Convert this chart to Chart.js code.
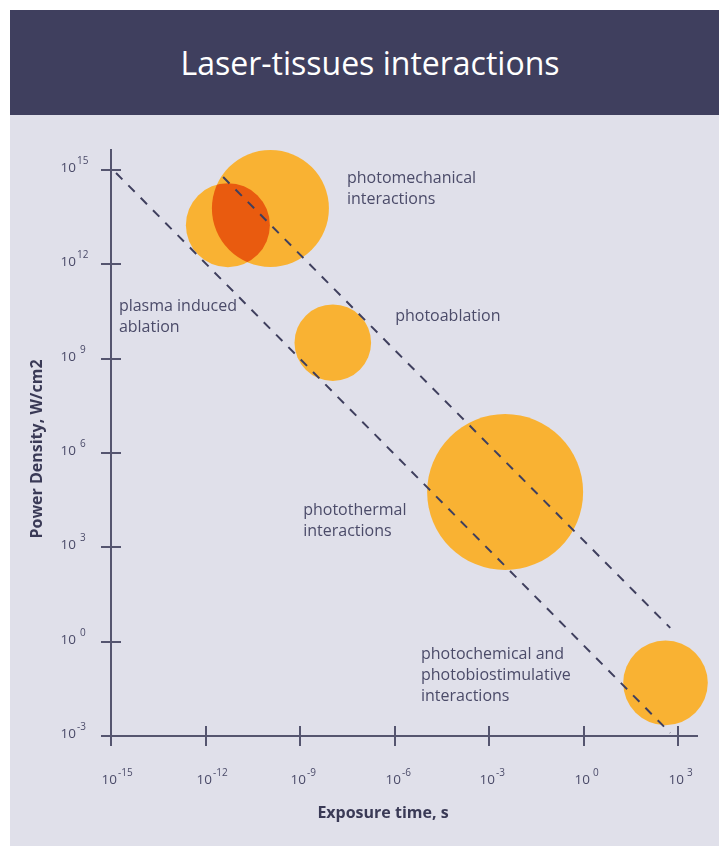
<!DOCTYPE html>
<html>
<head>
<meta charset="utf-8">
<script src="https://cdn.jsdelivr.net/npm/chart.js@4.4.0/dist/chart.umd.min.js"></script>
<style>
body{margin:0;background:#fff;width:719px;height:846px;overflow:hidden;position:relative;font-family:"Open Sans",sans-serif;}
#panel{position:absolute;left:10px;top:10px;width:709px;height:836px;background:#e0e0ea;}
#header{position:absolute;left:10px;top:10px;width:709px;height:105px;background:#3f3f5e;color:#fff;font-size:32px;line-height:105px;text-align:center;box-sizing:border-box;padding-left:11px;}
#grafica{position:absolute;left:0;top:0;}
</style>
</head>
<body>
<div id="panel"></div>
<div id="header">Laser-tissues interactions</div>
<canvas id="grafica" width="719" height="846"></canvas>
<script>
// valores en potencias de diez (exponentes)
const tiempoExp=[-11.29,-9.94,-7.96,-2.49,2.60];
const densidadExp=[13.25,13.78,9.51,4.76,-1.31];
const radios=[42,58.5,38.3,78,42.3];

// rectas de fluencia constante
const lineaBajaX=[-14.84,2.75];
const lineaBajaY=[14.91,-2.90];
const lineaAltaX=[-11.44,2.75];
const lineaAltaY=[14.78,0.44];

const ticksX=[-15,-12,-9,-6,-3,0,3];
const ticksY=[-3,0,3,6,9,12,15];

const notas=[
    {lineas:['photomechanical','interactions'],x:-7.51,y:14.75},
    {lineas:['plasma induced','ablation'],x:-14.75,y:10.65},
    {lineas:['photoablation'],x:-5.98,y:10.33},
    {lineas:['photothermal','interactions'],x:-8.90,y:4.16},
    {lineas:['photochemical and','photobiostimulative','interactions'],x:-5.16,y:-0.42}
];

const colorEje='#55556f';
const colorTexto='#4b4b69';
const naranja='#f9b233';
const naranjaOscuro='#e95b0f';
const fuente='"Open Sans", sans-serif';

function p10(e){return Math.pow(10,e);}

let burbujas=[];
for(let i in tiempoExp){
    burbujas.push({x:p10(tiempoExp[i]),y:p10(densidadExp[i]),r:radios[i]});
}
function recta(xs,ys){
    let d=[];
    for(let i in xs){d.push({x:p10(xs[i]),y:p10(ys[i])});}
    return d;
}

// zona donde se solapan las dos burbujas de arriba
const solape={
    id:'solape',
    afterDatasetDraw:function(chart,args){
        if(args.meta.type!=='bubble')return;
        const a=args.meta.data[0], b=args.meta.data[1];
        const ctx=chart.ctx;
        ctx.save();
        ctx.beginPath();
        ctx.arc(a.x,a.y,a.options.radius,0,Math.PI*2);
        ctx.clip();
        ctx.beginPath();
        ctx.arc(b.x,b.y,b.options.radius,0,Math.PI*2);
        ctx.fillStyle=naranjaOscuro;
        ctx.fill();
        ctx.restore();
    }
};

// marcas cruzadas, etiquetas 10^n, titulos de ejes y notas
const decoracion={
    id:'decoracion',
    afterDraw:function(chart){
        const ctx=chart.ctx;
        const sx=chart.scales.x, sy=chart.scales.y;
        const area=chart.chartArea;
        ctx.save();
        ctx.strokeStyle=colorEje;
        ctx.lineWidth=2;
        ctx.fillStyle=colorTexto;
        for(let e of ticksX){
            const px=Math.round(sx.getPixelForValue(p10(e)));
            ctx.beginPath();ctx.moveTo(px,area.bottom-10);ctx.lineTo(px,area.bottom+10);ctx.stroke();
            ctx.textBaseline='middle';
            ctx.font='13.5px '+fuente;
            ctx.textAlign='right';
            ctx.fillText('10',px+6,area.bottom+44);
            ctx.font='10px '+fuente;
            ctx.textAlign='left';
            ctx.fillText(String(e),px+(e>=0?9:7),area.bottom+37);
        }
        for(let e of ticksY){
            const py=Math.round(sy.getPixelForValue(p10(e)));
            ctx.beginPath();ctx.moveTo(area.left-10,py);ctx.lineTo(area.left+10,py);ctx.stroke();
            ctx.textBaseline='middle';
            ctx.font='13.5px '+fuente;
            ctx.textAlign='right';
            ctx.fillText('10',area.left-35,py-2);
            ctx.font='10px '+fuente;
            ctx.textAlign='left';
            ctx.fillText(String(e),area.left-(e>=0&&e<10?31:34),py-9);
        }
        // titulos
        ctx.fillStyle='#3a3a56';
        ctx.font='bold 16px '+fuente;
        ctx.textAlign='center';
        ctx.fillText('Exposure time, s',383,area.bottom+77);
        ctx.translate(37,449);
        ctx.rotate(-Math.PI/2);
        ctx.fillText('Power Density, W/cm2',0,0);
        ctx.restore();

        ctx.save();
        ctx.fillStyle=colorTexto;
        ctx.font='16px '+fuente;
        ctx.textAlign='left';
        ctx.textBaseline='middle';
        for(let n of notas){
            const nx=sx.getPixelForValue(p10(n.x));
            const ny=sy.getPixelForValue(p10(n.y));
            for(let k in n.lineas){
                ctx.fillText(n.lineas[k],nx,ny+k*21);
            }
        }
        ctx.restore();
    }
};

const ctx=document.getElementById('grafica').getContext('2d');
const grafica=new Chart(ctx,{
    type:'bubble',
    data:{
        datasets:[
            {
                type:'line',
                data:recta(lineaBajaX,lineaBajaY),
                borderColor:'#3f3f5e',
                borderWidth:2,
                borderDash:[9,8.5],
                pointRadius:0,
                fill:false,
                clip:false,
                order:0
            },
            {
                type:'line',
                data:recta(lineaAltaX,lineaAltaY),
                borderColor:'#3f3f5e',
                borderWidth:2,
                borderDash:[9,8.5],
                pointRadius:0,
                fill:false,
                clip:false,
                order:0
            },
            {
                data:burbujas,
                backgroundColor:naranja,
                borderWidth:0,
                hoverRadius:0,
                clip:false,
                order:1
            }
        ]
    },
    options:{
        responsive:false,
        animation:false,
        layout:{autoPadding:false,padding:{left:111,top:150,right:22,bottom:110}},
        plugins:{legend:{display:false},tooltip:{enabled:false}},
        scales:{
            x:{
                type:'logarithmic',
                min:p10(-15),
                max:p10(3.6),
                ticks:{display:false},
                grid:{drawOnChartArea:false,drawTicks:false},
                border:{display:true,color:colorEje,width:2}
            },
            y:{
                type:'logarithmic',
                min:p10(-3),
                max:p10(15.64),
                ticks:{display:false},
                grid:{drawOnChartArea:false,drawTicks:false},
                border:{display:true,color:colorEje,width:2}
            }
        }
    },
    plugins:[solape,decoracion]
});
</script>
</body>
</html>
